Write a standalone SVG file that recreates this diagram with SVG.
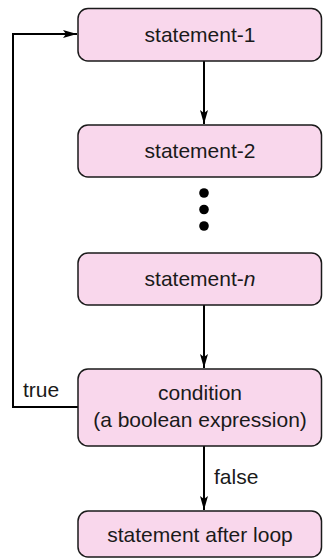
<svg xmlns="http://www.w3.org/2000/svg" width="323" height="559" viewBox="0 0 323 559">
<style>
.box{fill:#f9d7ec;stroke:#1a1a1a;stroke-width:1.5}
.t{font-family:"Liberation Sans",Arial,sans-serif;font-size:21px;fill:#1a1a1a;text-anchor:middle}
.l{font-family:"Liberation Sans",Arial,sans-serif;font-size:21px;fill:#1a1a1a}
.c{fill:none;stroke:#000;stroke-width:2}
</style>
<defs>
<marker id="ah" markerWidth="16" markerHeight="10" refX="14" refY="5" orient="auto" markerUnits="userSpaceOnUse">
<path d="M0,1 L14,5 L0,9 L3,5 z" fill="#000"/>
</marker>
</defs>
<rect width="323" height="559" fill="#fff"/>
<g id="connectors">
<path class="c" d="M204,61 V124" marker-end="url(#ah)"/>
<path class="c" d="M204,305 V368" marker-end="url(#ah)"/>
<path class="c" d="M204,446 V510" marker-end="url(#ah)"/>
<path class="c" d="M78,407 H13 V34 H77" marker-end="url(#ah)"/>
<text class="l" x="23" y="397">true</text>
<text class="l" x="214" y="484">false</text>
</g>
<g id="dots">
<circle cx="204" cy="193" r="4.8" fill="#000"/>
<circle cx="204" cy="209.5" r="4.8" fill="#000"/>
<circle cx="204" cy="226" r="4.8" fill="#000"/>
</g>
<g id="s1">
<rect class="box" x="78" y="8.5" width="243.5" height="52.5" rx="10"/>
<text class="t" x="200" y="42">statement-1</text>
</g>
<g id="s2">
<rect class="box" x="78" y="125" width="243.5" height="52" rx="10"/>
<text class="t" x="200" y="158">statement-2</text>
</g>
<g id="sn">
<rect class="box" x="78" y="253" width="243.5" height="52" rx="10"/>
<text class="t" x="200" y="286">statement-<tspan font-style="italic">n</tspan></text>
</g>
<g id="cond">
<rect class="box" x="78" y="369" width="243.5" height="77" rx="10"/>
<text class="t" x="200" y="400">condition</text>
<text class="t" x="200" y="427">(a boolean expression)</text>
</g>
<g id="after">
<rect class="box" x="78" y="511" width="243.5" height="46" rx="10"/>
<text class="t" x="200" y="542">statement after loop</text>
</g>
</svg>
